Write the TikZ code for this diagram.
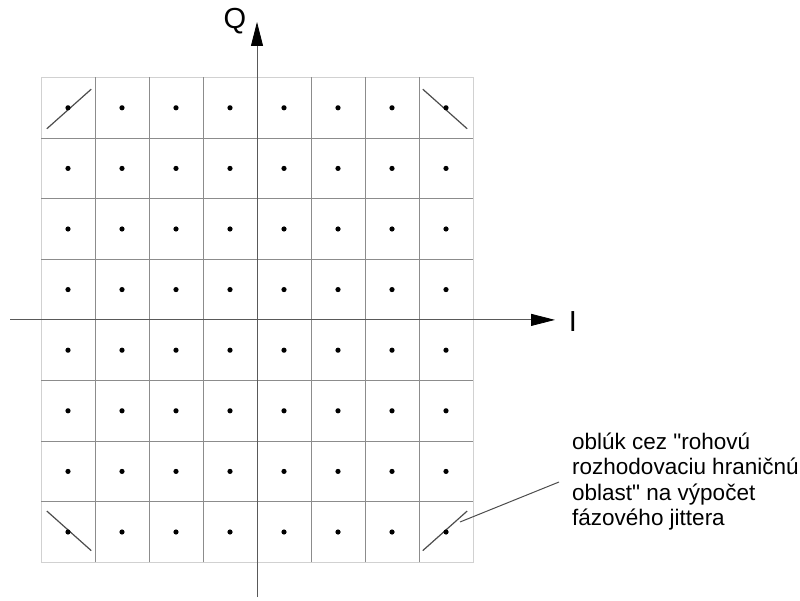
\documentclass[tikz,border=0pt]{standalone}
\usepackage{fontspec}
\setmainfont{Liberation Sans}[Ligatures=TeXOff]
\usetikzlibrary{arrows.meta,calc}
\begin{document}
\begin{tikzpicture}[x=1pt,y=1pt,
  gridline/.style={draw=black!45, line width=0.8pt},
  border/.style={draw=black!18, line width=0.8pt},
  axis/.style={draw=black!65, line width=0.8pt, -{Triangle[length=24pt,width=12pt,fill=black,color=black]}},
  pt/.style={circle, fill=black, inner sep=0pt, minimum size=5.2pt},
  cornerarc/.style={draw=black!70, line width=1.2pt},
  pointer/.style={draw=black!70, line width=1pt},
  lbl/.style={font=\fontsize{29}{33}\selectfont, inner sep=0pt},
  note/.style={font=\fontsize{22.5}{25.5}\selectfont, align=left, inner sep=0pt}]
\useasboundingbox (0,0) rectangle (800,600);
% grid
\draw[border] (41,37.7) rectangle (473,522.6);
\foreach \i in {1,...,7} {
  \draw[gridline] ({41+54*\i},37.7) -- ({41+54*\i},522.6);
  \draw[gridline] (41,{37.7+60.6*\i}) -- (473,{37.7+60.6*\i});
}
% axes
\coordinate (O) at (257,280.1);
\coordinate (Ia) at (10,280.1);
\coordinate (Ib) at (555,280.1);
\coordinate (Qa) at (257,3);
\coordinate (Qb) at (257,578);
\draw[axis] (Ia) -- (Ib);
\draw[axis] (Qa) -- (Qb);
\node[lbl] (Ilab) at (573,278) {I};
\node[lbl] (Qlab) at (235,579) {Q};
% corner decision-boundary arcs (nearly straight)
\foreach \a in {131.7,48.3,-48.3,-131.7} {
  \draw[cornerarc] ($(O)+({\a-6}:284.1)$) -- ($(O)+({\a+6}:284.1)$);
}
% constellation points
\foreach \i in {0,...,7} {
  \foreach \j in {0,...,7} {
    \node[pt] (d\i\j) at ({68+54*\i},{68+60.6*\j}) {};
  }
}
% note
\node[note, anchor=base west] (note) at (572,74.5) {oblúk cez "rohovú\\rozhodovaciu hraničnú\\oblast" na výpočet\\fázového jittera};
\coordinate (ptrA) at (460,78);
\coordinate (ptrB) at (559,118);
\draw[pointer] (ptrA) -- (ptrB);
\end{tikzpicture}
\end{document}
